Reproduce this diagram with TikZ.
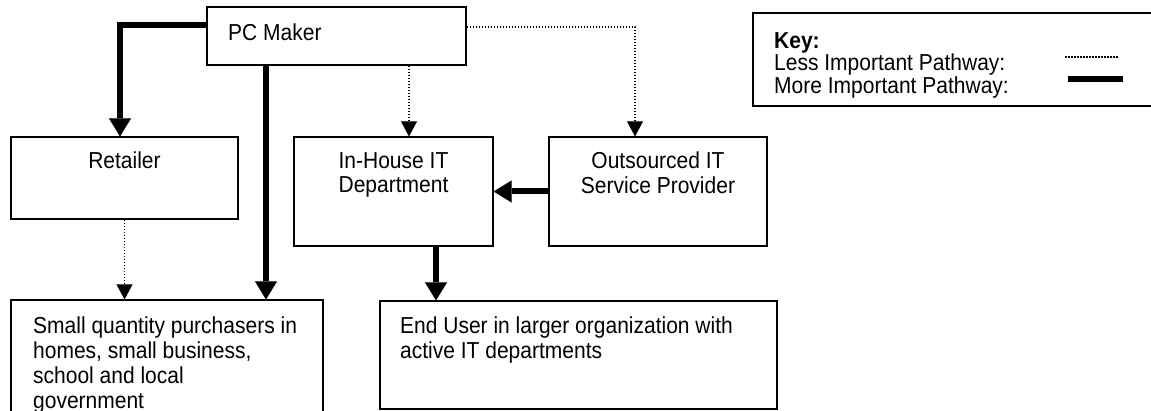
\documentclass[tikz,border=0pt]{standalone}
\usepackage{fontspec}
\setmainfont{Liberation Sans}
\usetikzlibrary{arrows.meta}
\begin{document}
\begin{tikzpicture}[x=1pt,y=-1pt,
  box/.style={draw, line width=1.3pt, inner sep=0pt},
  txt/.style={inner sep=0pt, font=\fontsize{21}{22.5}\selectfont, yscale=1.1, align=center},
  keytxt/.style={inner sep=0pt, font=\fontsize{21}{19.5}\selectfont, yscale=1.1, align=left},
  bigarrow/.style={line width=6pt, -{Triangle[width=22pt,length=18pt,line width=0.1pt]}},
  smallarrow/.style={line width=1.2pt, dash pattern=on 1.5pt off 1.5pt, -{Triangle[width=16pt,length=15pt,line width=0.1pt]}},
  dotline/.style={line width=1.2pt, dash pattern=on 1.5pt off 1.5pt},
  thickline/.style={line width=6pt}]
\useasboundingbox (0,0) rectangle (1151,411);
\fill[white] (0,0) rectangle (1151,411);
% boxes
\node[box, minimum width=259pt, minimum height=58pt] (pc) at (336.5,36) {};
\node[txt, anchor=north west] (pct) at (228,24) {PC Maker};
\node[box, minimum width=227pt, minimum height=82pt] (ret) at (124.5,178) {};
\node[txt, anchor=north] (rett) at (124.5,152) {Retailer};
\node[box, minimum width=199pt, minimum height=109pt] (inh) at (393.5,191.5) {};
\node[txt, anchor=north] (inht) at (393.5,152) {In-House IT\\Department};
\node[box, minimum width=218pt, minimum height=109pt] (out) at (658,191.5) {};
\node[txt, anchor=north] (outt) at (658,152) {Outsourced IT\\Service Provider};
\node[box, minimum width=312pt, minimum height=140pt] (small) at (167,370) {};
\node[txt, anchor=north west, align=left] (smallt) at (33,317) {Small quantity purchasers in\\homes, small business,\\school and local\\government};
\node[box, minimum width=397pt, minimum height=108pt] (end) at (578.5,355) {};
\node[txt, anchor=north west, align=left] (endt) at (400,317) {End User in larger organization with\\active IT departments};
% key
\node[box, minimum width=407pt, minimum height=93pt] (key) at (956.5,59.5) {};
\node[keytxt, anchor=north west] (keyt) at (774,32) {\textbf{Key:}\\Less Important Pathway:\\More Important Pathway:};
\coordinate (d1) at (1065,57);
\coordinate (d2) at (1119,57);
\draw[dotline] (d1) -- (d2);
\coordinate (t1) at (1068,79);
\coordinate (t2) at (1123,79);
\draw[thickline] (t1) -- (t2);
% connectors
\draw[bigarrow] ([yshift=11pt]pc.west) -| ([xshift=-4.5pt]ret.north);
\coordinate (c1) at ([xshift=-70.5pt]pc.south);
\draw[bigarrow] (c1) -- (c1 |- small.north);
\coordinate (c2) at ([xshift=72.5pt]pc.south);
\draw[smallarrow] (c2) -- (c2 |- inh.north);
\draw[smallarrow] ([yshift=9pt]pc.east) -| ([xshift=-23pt]out.north);
\draw[smallarrow] (ret.south) -- (ret.south |- small.north);
\coordinate (c3) at ([xshift=42.5pt]inh.south);
\draw[bigarrow] (c3) -- (c3 |- end.north);
\draw[bigarrow] (out.west) -- (inh.east);
\end{tikzpicture}
\end{document}
